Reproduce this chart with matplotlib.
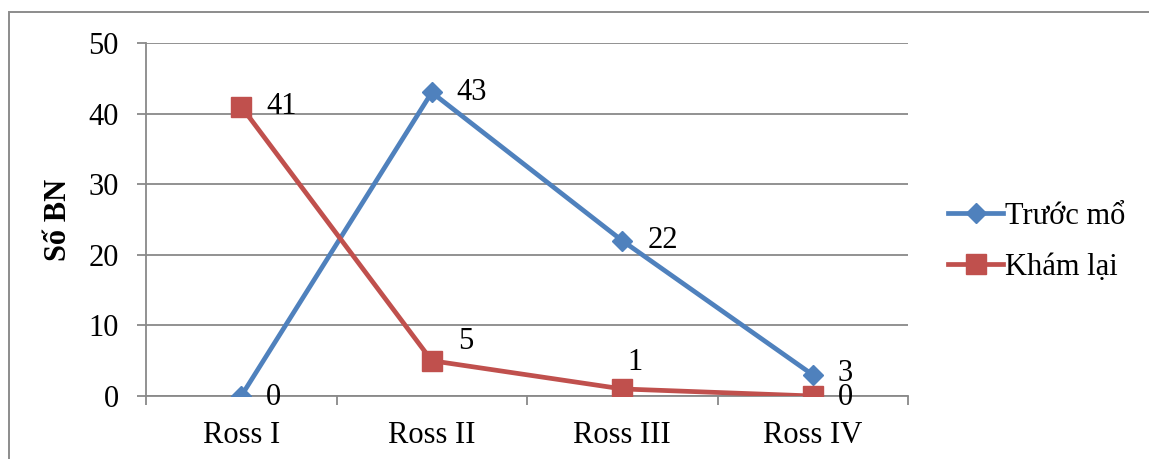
import matplotlib
matplotlib.use("Agg")
import matplotlib.pyplot as plt
from matplotlib.patches import Rectangle

categories = ["Ross I", "Ross II", "Ross III", "Ross IV"]
truoc_mo = [0, 43, 22, 3]
kham_lai = [41, 5, 1, 0]
series_names = ["Trước mổ", "Khám lại"]
y_label = "Số BN"

BLUE = "#4F81BD"
RED = "#C0504D"
GRID = "#898989"
FS = 22

plt.rcParams["font.family"] = ["Liberation Serif", "DejaVu Serif"]

fig = plt.figure(figsize=(11.49, 4.59), dpi=100)
W, H = 1149, 459
ax = fig.add_axes([146 / W, 1 - 396 / H, (908 - 146) / W, (396 - 43) / H])

# outer frame around the chart
fig.patches.append(Rectangle((9 / W, -0.2), 1.2, 1.2 - 12 / H, transform=fig.transFigure,
                             fill=False, edgecolor="#8c8c8c", linewidth=1.4))

x = list(range(len(categories)))
ax.plot(x, truoc_mo, color=BLUE, linewidth=3.4, marker="D", markersize=10.5,
        label=series_names[0], zorder=3)
ax.plot(x, kham_lai, color=RED, linewidth=3.4, marker="s", markersize=14,
        label=series_names[1], zorder=4)

# value labels sit to the right of each point (offsets in points)
blue_offsets = [(18, -1), (18, 0), (18, 0), (18, 1)]
red_offsets = [(18, 0), (19, 14), (4, 19), (18, -1)]
for xi, v, off in zip(x, truoc_mo, blue_offsets):
    ax.annotate(str(v), (xi, v), xytext=off, textcoords="offset points",
                va="center", ha="left", fontsize=FS, zorder=5)
for xi, v, off in zip(x, kham_lai, red_offsets):
    ax.annotate(str(v), (xi, v), xytext=off, textcoords="offset points",
                va="center", ha="left", fontsize=FS, zorder=5)

ax.set_xlim(-0.5, 3.5)
ax.set_ylim(0, 50)
ax.set_yticks(range(0, 51, 10))
ax.yaxis.grid(True, color=GRID, linewidth=1.3)
ax.set_axisbelow(True)

ax.set_xticks([-0.5, 0.5, 1.5, 2.5, 3.5])
ax.set_xticklabels([])
ax.set_xticks(x, minor=True)
ax.set_xticklabels(categories, minor=True)
ax.tick_params(axis="x", which="major", length=6.5, width=1.3, color=GRID, direction="out")
ax.tick_params(axis="x", which="minor", length=0, pad=18, labelsize=FS)
ax.tick_params(axis="y", length=6.5, width=1.3, color=GRID, labelsize=FS, pad=13)

for s in ["top", "right"]:
    ax.spines[s].set_visible(False)
for s in ["left", "bottom"]:
    ax.spines[s].set_color(GRID)
    ax.spines[s].set_linewidth(1.3)

ax.set_ylabel(y_label, fontsize=FS, fontweight="bold", va="center")
ax.yaxis.set_label_coords((58 - 146) / 762, 0.5)

ax.legend(loc="center left", bbox_to_anchor=(948 / W, 1 - 241.5 / H),
          bbox_transform=fig.transFigure, frameon=False, fontsize=FS,
          borderpad=0, borderaxespad=0, handlelength=1.8, handletextpad=0.07,
          labelspacing=0.72)

fig.savefig("out.png", dpi=100)
